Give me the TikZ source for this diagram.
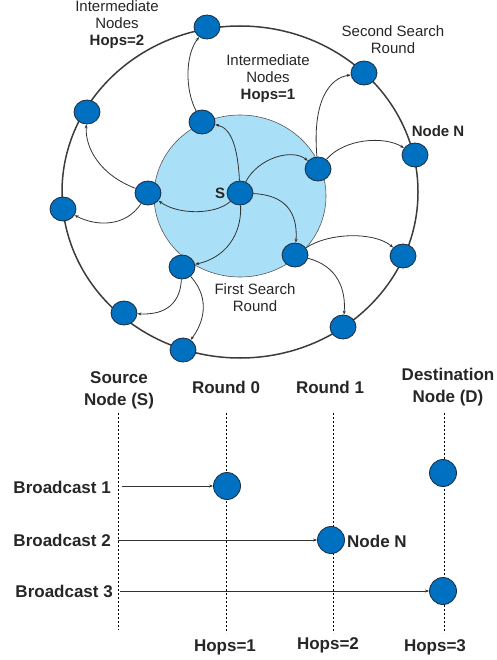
\documentclass[tikz,border=0pt]{standalone}
\usepackage{fontspec}
\setmainfont{Liberation Sans}
\usetikzlibrary{arrows.meta,shapes.geometric}
\definecolor{nodeblue}{HTML}{0070C0}
\definecolor{nodeedge}{HTML}{1C2B3F}
\definecolor{zoneblue}{HTML}{A9E0F7}
\definecolor{ringgray}{HTML}{3C3C3C}
\definecolor{linkgray}{HTML}{333333}
\tikzset{
  peer/.style={ellipse,draw=nodeedge,line width=0.8pt,fill=nodeblue,minimum width=26pt,minimum height=24pt,inner sep=0pt},
  hopnode/.style={circle,draw=nodeedge,line width=0.8pt,fill=nodeblue,minimum size=27pt,inner sep=0pt},
  link/.style={draw=linkgray,line width=0.8pt,-{Stealth[length=4pt,width=3pt]}},
  smalltext/.style={font=\fontsize{15}{17}\selectfont,align=center,inner sep=0pt,text=black!85},
  boldsmall/.style={font=\fontsize{15}{17}\selectfont\bfseries,align=center,inner sep=0pt,text=black!85},
  boldtext/.style={font=\fontsize{17}{22}\selectfont\bfseries,align=center,inner sep=0pt,text=black!85},
  timeline/.style={draw=black,line width=0.8pt,dash pattern=on 2pt off 2pt},
  shot/.style={draw=linkgray,line width=0.8pt,-{Stealth[length=4pt,width=3pt]}}
}
\begin{document}
\begin{tikzpicture}[x=1pt,y=-1pt]
\useasboundingbox (0,0) rectangle (496,660);

% search rings
\draw[ringgray,line width=1.5pt] (240,192) ellipse [x radius=178, y radius=166];
\draw[gray!70!black,line width=0.6pt,fill=zoneblue] (240,196) ellipse [x radius=86, y radius=81];

% source and first-hop nodes
\node[peer] (S) at (240,193) {};
\node[peer] (ti) at (202,122) {};
\node[peer] (li) at (148,193) {};
\node[peer] (bli) at (182,267) {};
\node[peer] (bri) at (295,255) {};
\node[peer] (ri) at (318,169) {};

% second-hop nodes on the outer ring
\node[peer] (top) at (207,27) {};
\node[peer] (ss) at (364,73) {};
\node[peer] (nn) at (415,155) {};
\node[peer] (lr) at (403,256) {};
\node[peer] (br) at (343,327) {};
\node[peer] (bot) at (183,350) {};
\node[peer] (bl) at (124,313) {};
\node[peer] (lft) at (63,209) {};
\node[peer] (ul) at (87,112) {};

% first search round
\draw[link] (S) .. controls (238,150) and (232,128) .. (ti);
\draw[link] (S) .. controls (215,215) and (178,215) .. (li);
\draw[link] (S) .. controls (242,235) and (225,258) .. (bli);
\draw[link] (S) .. controls (285,195) and (298,212) .. (bri);
\draw[link] (S) .. controls (258,158) and (292,148) .. (ri);

% second search round
\draw[link] (ti) .. controls (185,90) and (185,55) .. (top);
\draw[link] (li) .. controls (100,175) and (85,148) .. (ul);
\draw[link] (li) .. controls (125,228) and (95,226) .. (lft);
\draw[link] (bli) .. controls (180,308) and (160,315) .. (bl);
\draw[link] (bli) .. controls (212,300) and (202,325) .. (bot);
\draw[link] (ri) .. controls (312,100) and (330,78) .. (ss);
\draw[link] (ri) .. controls (345,138) and (385,136) .. (nn);
\draw[link] (bri) .. controls (330,232) and (375,232) .. (lr);
\draw[link] (bri) .. controls (338,266) and (346,290) .. (br);

% labels of the ring diagram
\node[smalltext] (lblhop2) at (117,25) {Intermediate\\Nodes\\\textbf{Hops=2}};
\node[smalltext] (lblhop1) at (268,79) {Intermediate\\Nodes\\\textbf{Hops=1}};
\node[smalltext] (lblsecond) at (393,40) {Second Search\\Round};
\node[smalltext] (lblfirst) at (255,297.5) {First Search\\Round};
\node[boldsmall] (lblnn) at (438,131) {Node N};
\node[boldsmall] (lbls) at (220,193) {S};

% column headings of the timeline
\node[boldtext] (hsrc) at (119,390) {Source\\Node (S)};
\node[boldtext] (hr0) at (226,387) {Round 0};
\node[boldtext] (hr1) at (330,387) {Round 1};
\node[boldtext] (hdst) at (448,387.5) {Destination\\Node (D)};

% timelines
\coordinate (src top) at (118,413);
\coordinate (src bot) at (118,630);
\coordinate (r0 top) at (226,413);
\coordinate (r0 bot) at (226,633);
\coordinate (r1 top) at (333,413);
\coordinate (r1 bot) at (333,633);
\coordinate (dst top) at (444,413);
\coordinate (dst bot) at (444,633);
\draw[timeline] (src top) -- (src bot);
\draw[timeline] (r0 top) -- (r0 bot);
\draw[timeline] (r1 top) -- (r1 bot);
\draw[timeline] (dst top) -- (dst bot);

% nodes reached by each broadcast
\node[hopnode] (d0) at (443,473) {};
\node[hopnode] (n1) at (227,486) {};
\node[hopnode] (n2) at (331,540) {};
\node[hopnode] (n3) at (443,591) {};

% broadcasts
\node[boldtext,anchor=east] (b1) at (111,487) {Broadcast 1};
\node[boldtext,anchor=east] (b2) at (111,540) {Broadcast 2};
\node[boldtext,anchor=east] (b3) at (113,591) {Broadcast 3};
\coordinate (s1) at (122,486);
\coordinate (s2) at (118,540);
\coordinate (s3) at (120,591);
\draw[shot] (s1) -- (n1);
\draw[shot] (s2) -- (n2);
\draw[shot] (s3) -- (n3);
\node[boldtext,anchor=west] (lblN2) at (347,541) {Node N};

% hop counts
\node[boldtext] (h1) at (225,647) {Hops=1};
\node[boldtext] (h2) at (328,645) {Hops=2};
\node[boldtext] (h3) at (435,647) {Hops=3};
\end{tikzpicture}
\end{document}
